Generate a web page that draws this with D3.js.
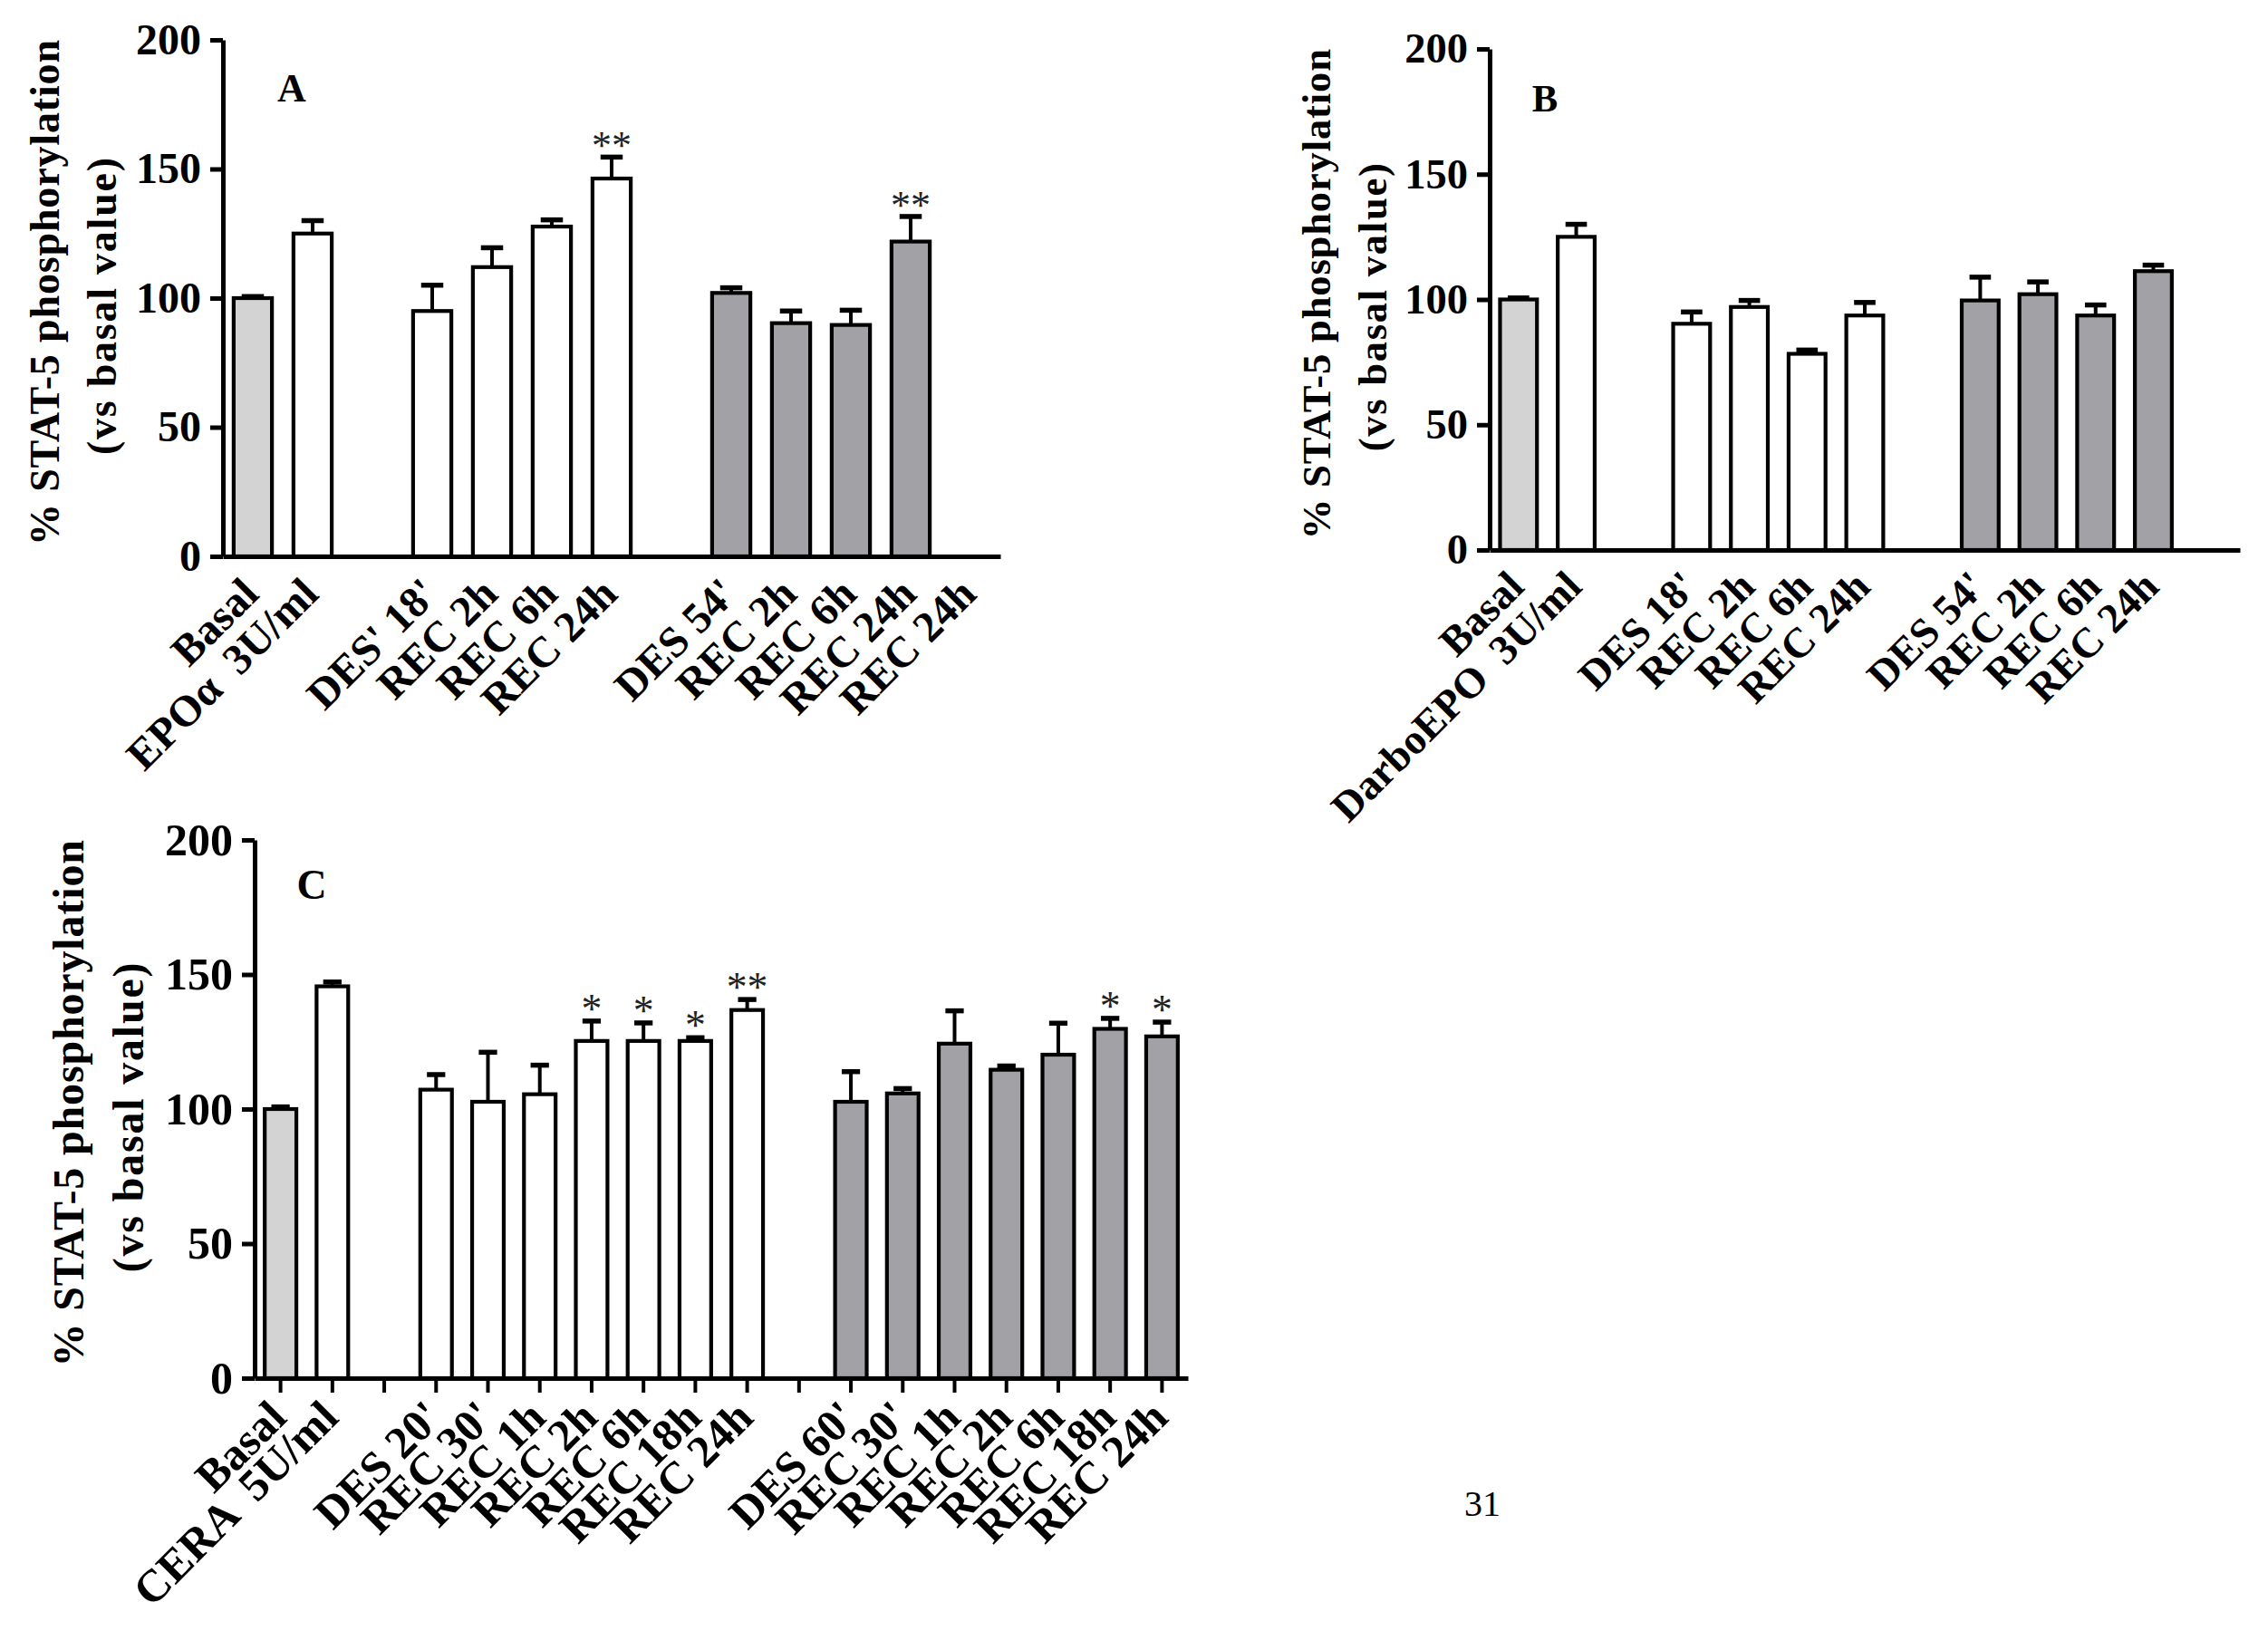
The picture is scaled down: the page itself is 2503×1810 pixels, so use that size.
<!DOCTYPE html>
<html>
<head>
<meta charset="utf-8">
<script src="https://cdn.jsdelivr.net/npm/d3@7"></script>
<style>
  html, body { margin: 0; padding: 0; background: #fff; }
  svg { display: block; }
</style>
</head>
<body>
<svg id="chart" width="2503" height="1810"></svg>
<script>
// ---------- DATA ----------
const yTicks = [0, 50, 100, 150, 200];
const yTitle1 = "% STAT-5 phosphorylation";
const yTitle2 = "(vs basal value)";

// Panel A (EPOα)
const catsA = ["Basal", "EPOα  3U/ml", "", "DES' 18'", "REC 2h", "REC 6h", "REC 24h", "", "DES 54'", "REC 2h", "REC 6h", "REC 24h", "REC 24h"];
const valsA = [100, 125, null, 95, 112, 127.7, 146.3, null, 102, 90.3, 89.6, 121.9, null];
const semA  = [0.6, 5, null, 10, 7.5, 2.6, 8.3, null, 2, 4.7, 5.7, 9.7, null];
const sigA  = ["", "", "", "", "", "", "**", "", "", "", "", "**", ""];
const groupA = ["basal", "agent", null, "short", "short", "short", "short", null, "long", "long", "long", "long", null];

// Panel B (DarboEPO)
const catsB = ["Basal", "DarboEPO  3U/ml", "", "DES 18'", "REC 2h", "REC 6h", "REC 24h", "", "DES 54'", "REC 2h", "REC 6h", "REC 24h", ""];
const valsB = [100, 125, null, 90.3, 97, 78.3, 93.6, null, 99.6, 102.1, 93.6, 111.3, null];
const semB  = [0.6, 5, null, 4.7, 2.6, 1.5, 5.2, null, 9.3, 4.9, 4.2, 2.4, null];
const sigB  = ["", "", "", "", "", "", "", "", "", "", "", "", ""];
const groupB = ["basal", "agent", null, "short", "short", "short", "short", null, "long", "long", "long", "long", null];

// Panel C (CERA)
const catsC = ["Basal", "CERA  5U/ml", "", "DES 20'", "REC 30'", "REC 1h", "REC 2h", "REC 6h", "REC 18h", "REC 24h", "", "DES 60'", "REC 30'", "REC 1h", "REC 2h", "REC 6h", "REC 18h", "REC 24h"];
const valsC = [100, 145.6, null, 107.2, 102.7, 105.5, 125.3, 125.3, 125.3, 136.8, null, 102.7, 105.8, 124.3, 114.6, 120.2, 129.8, 127];
const semC  = [0.8, 1.6, null, 5.6, 18.4, 10.8, 7.4, 6.7, 1.2, 3.9, null, 11.2, 1.8, 12.2, 1.4, 11.7, 3.9, 5.3];
const sigC  = ["", "", "", "", "", "", "*", "*", "*", "**", "", "", "", "", "", "", "*", "*"];
const groupC = ["basal", "agent", null, "short", "short", "short", "short", "short", "short", "short", null, "long", "long", "long", "long", "long", "long", "long"];

const pageNumber = "31";

// ---------- LAYOUT / STYLE ----------
const fills = { basal: "#d3d3d3", agent: "#ffffff", short: "#ffffff", long: "#a2a1a6" };
const SERIF = "'Liberation Serif', 'Times New Roman', serif";

const panels = [
  { letter: "A", cats: catsA, vals: valsA, sem: semA, sig: sigA, groups: groupA,
    x0: 246, x1: 1104, y0: 614, yTop: 44, k: 1.0, ticks: false, pad: 0.36, letterPos: [322, 112] },
  { letter: "B", cats: catsB, vals: valsB, sem: semB, sig: sigB, groups: groupB,
    x0: 1644, x1: 2472, y0: 607, yTop: 54, k: 0.97, ticks: false, pad: 0.36, letterPos: [1705, 123] },
  { letter: "C", cats: catsC, vals: valsC, sem: semC, sig: sigC, groups: groupC,
    x0: 281, x1: 1311, y0: 1521, yTop: 927, k: 1.042, ticks: true, pad: 0.39, letterPos: [344, 992] }
];

const svg = d3.select("#chart");

panels.forEach(p => {
  const fs = 48 * p.k;
  const g = svg.append("g");
  const idx = d3.range(p.cats.length);
  const x = d3.scaleBand().domain(idx).range([p.x0, p.x1])
    .paddingInner(p.pad).paddingOuter(p.pad / 2);
  const y = d3.scaleLinear().domain([0, 200]).range([p.y0, p.yTop]);
  const bw = x.bandwidth();

  const data = idx.map(i => ({ i, v: p.vals[i], e: p.sem[i], s: p.sig[i], grp: p.groups[i] }))
                  .filter(d => d.v != null);

  // bars
  g.append("g").selectAll("rect").data(data).join("rect")
    .attr("x", d => x(d.i))
    .attr("y", d => y(d.v))
    .attr("width", bw)
    .attr("height", d => y(0) - y(d.v))
    .attr("fill", d => fills[d.grp])
    .attr("stroke", "#000")
    .attr("stroke-width", 4.2);

  // error bars (upper only)
  const eb = g.append("g").attr("stroke", "#000");
  eb.selectAll("line.v").data(data).join("line").attr("class", "v")
    .attr("x1", d => x(d.i) + bw / 2).attr("x2", d => x(d.i) + bw / 2)
    .attr("y1", d => y(d.v)).attr("y2", d => y(d.v + d.e))
    .attr("stroke-width", 4);
  eb.selectAll("line.c").data(data).join("line").attr("class", "c")
    .attr("x1", d => x(d.i) + bw / 2 - bw * 0.29).attr("x2", d => x(d.i) + bw / 2 + bw * 0.29)
    .attr("y1", d => y(d.v + d.e)).attr("y2", d => y(d.v + d.e))
    .attr("stroke-width", 5.5);

  // significance stars
  g.append("g").selectAll("text").data(data.filter(d => d.s)).join("text")
    .attr("x", d => x(d.i) + bw / 2)
    .attr("y", d => y(d.v + d.e) + 2)
    .attr("text-anchor", "middle")
    .attr("font-family", SERIF)
    .attr("font-size", 44 * p.k)
    .attr("fill", "#222")
    .text(d => d.s);

  // y axis
  const yAx = g.append("g").attr("transform", `translate(${p.x0},0)`)
    .call(d3.axisLeft(y).tickValues(yTicks).tickSize(14).tickPadding(10).tickSizeOuter(0));
  yAx.select(".domain").attr("stroke-width", 5);
  yAx.selectAll(".tick line").attr("stroke-width", 5);
  yAx.selectAll(".tick text")
    .attr("font-family", SERIF).attr("font-weight", "bold").attr("font-size", fs)
    .attr("fill", "#000");

  // x axis
  const xAx = g.append("g").attr("transform", `translate(0,${p.y0})`)
    .call(d3.axisBottom(x).tickSizeOuter(0).tickSizeInner(p.ticks ? 16 : 0).tickPadding(0)
      .tickFormat(i => p.cats[i]));
  xAx.select(".domain").attr("stroke-width", 5);
  xAx.selectAll(".tick line").attr("stroke-width", 4);
  xAx.selectAll(".tick text")
    .attr("y", null).attr("dy", null)
    .attr("text-anchor", "end")
    .attr("transform", `translate(${0.18 * fs},${0.92 * fs}) rotate(-45)`)
    .style("white-space", "pre")
    .attr("font-family", SERIF).attr("font-weight", "bold").attr("font-size", fs)
    .attr("fill", "#000");

  // y title (two lines)
  const mid = (p.y0 + p.yTop) / 2;
  g.append("text")
    .attr("transform", `translate(${p.x0 - 181 * p.k},${mid - 6 * p.k}) rotate(-90)`)
    .attr("text-anchor", "middle")
    .attr("font-family", SERIF).attr("font-weight", "bold").attr("font-size", 46 * p.k)
    .attr("textLength", 558 * p.k).attr("lengthAdjust", "spacing")
    .text(yTitle1);
  g.append("text")
    .attr("transform", `translate(${p.x0 - 118 * p.k},${mid + 9 * p.k}) rotate(-90)`)
    .attr("text-anchor", "middle")
    .attr("font-family", SERIF).attr("font-weight", "bold").attr("font-size", 46 * p.k)
    .attr("textLength", 328 * p.k).attr("lengthAdjust", "spacing")
    .text(yTitle2);

  // panel letter
  g.append("text")
    .attr("x", p.letterPos[0]).attr("y", p.letterPos[1])
    .attr("text-anchor", "middle")
    .attr("font-family", SERIF).attr("font-weight", "bold").attr("font-size", 44 * p.k)
    .text(p.letter);
});

// page number
svg.append("text")
  .attr("x", 1636).attr("y", 1673)
  .attr("text-anchor", "middle")
  .attr("font-family", SERIF).attr("font-size", 40)
  .text(pageNumber);
</script>
</body>
</html>
